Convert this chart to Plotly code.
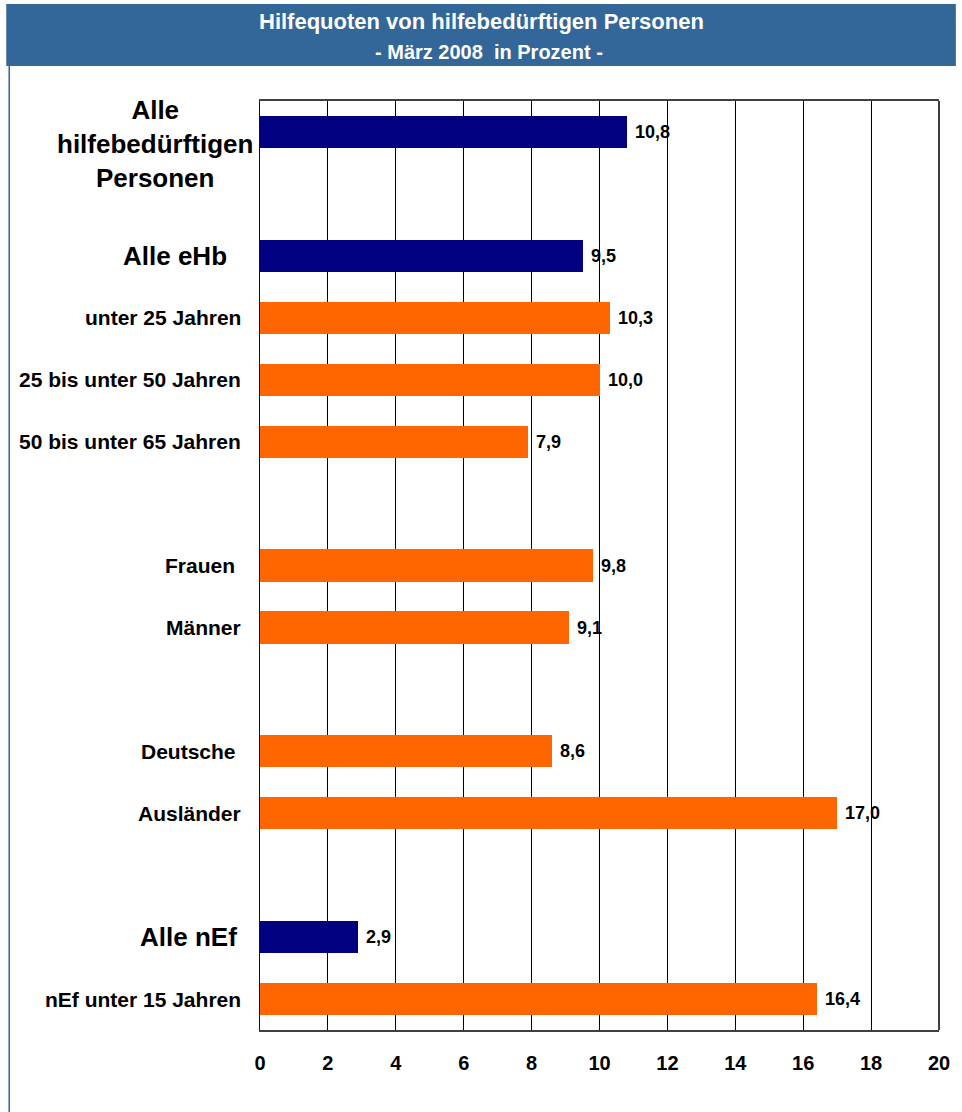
import plotly.graph_objects as go

# rows from top to bottom, blank strings are empty spacer rows
rows = ["Alle hilfebedürftigen Personen", " ", "Alle eHb", "unter 25 Jahren",
        "25 bis unter 50 Jahren", "50 bis unter 65 Jahren", "  ", "Frauen ", "Männer",
        "   ", "Deutsche ", "Ausländer", "    ", "Alle nEf", "nEf unter 15 Jahren"]
values = [10.8, None, 9.5, 10.3, 10.0, 7.9, None, 9.8, 9.1, None, 8.6, 17.0, None, 2.9, 16.4]
totals = ["Alle hilfebedürftigen Personen", "Alle eHb", "Alle nEf"]

title = "Hilfequoten von hilfebedürftigen Personen"
subtitle = "- März 2008  in Prozent -"
x_ticks = [0, 2, 4, 6, 8, 10, 12, 14, 16, 18, 20]

NAVY = "#000080"
ORANGE = "#FF6600"
BLUE = "#336699"
FONT = "Liberation Sans"

W, H = 962, 1112
L, R, T, B = 260, 945, 101, 1030


def px(x):
    return (x - L) / (R - L)


def py(y):
    return (B - y) / (B - T)


colors = [NAVY if r in totals else ORANGE for r in rows]

fig = go.Figure()
fig.add_trace(go.Bar(
    x=values, y=rows, orientation="h", width=0.52,
    marker=dict(color=colors, line=dict(width=0)),
    texttemplate="\u00a0%{x:.1f}", textposition="outside", cliponaxis=False,
    textfont=dict(family=FONT, size=18, color="black", weight="bold"),
    showlegend=False, hoverinfo="skip",
))

# category labels on the left
for r in rows:
    if not r.strip():
        continue
    label = r.replace(" ", "\u00a0") if r.endswith(" ") else r
    if r == "Alle hilfebedürftigen Personen":
        fig.add_annotation(x=0, xref="paper", y=r, yref="y", text=r.replace(" ", "<br>"),
                           xanchor="center", xshift=-105, yshift=-12, align="center", showarrow=False,
                           font=dict(family=FONT, size=26, color="black", weight="bold"))
    elif r in totals:
        shift = -31 if r == "Alle eHb" else -21
        fig.add_annotation(x=0, xref="paper", y=r, yref="y", text=label, xanchor="right",
                           xshift=shift, showarrow=False,
                           font=dict(family=FONT, size=26, color="black", weight="bold"))
    else:
        fig.add_annotation(x=0, xref="paper", y=r, yref="y", text=label, xanchor="right",
                           xshift=-17, showarrow=False,
                           font=dict(family=FONT, size=21, color="black", weight="bold"))

# header band and frame
fig.add_shape(type="rect", xref="paper", yref="paper", x0=px(4), x1=px(962), y0=py(66), y1=py(4),
              fillcolor=BLUE, line=dict(width=0), layer="below")
fig.add_shape(type="line", xref="paper", yref="paper", x0=px(7), x1=px(7), y0=py(66), y1=py(1112),
              line=dict(color=BLUE, width=1.5))
fig.add_shape(type="line", xref="paper", yref="paper", x0=1, x1=1, y0=0, y1=1,
              line=dict(color="#404040", width=2))
fig.add_annotation(x=px(483), xref="paper", y=py(22), yref="paper", text=title, showarrow=False,
                   xanchor="center", yanchor="middle",
                   font=dict(family=FONT, size=22, color="white", weight="bold"))
fig.add_annotation(x=px(491), xref="paper", y=py(52), yref="paper", text=subtitle, showarrow=False,
                   xanchor="center", yanchor="middle",
                   font=dict(family=FONT, size=20, color="white", weight="bold"))

fig.update_layout(
    width=W, height=H,
    margin=dict(l=L, r=W - R, t=T, b=H - B, pad=0),
    paper_bgcolor="white", plot_bgcolor="white",
    separators=",.",
    bargap=0,
    xaxis=dict(range=[0, 20], tickvals=x_ticks, showgrid=True, gridcolor="black", gridwidth=1,
               zeroline=False, showline=True, linecolor="#404040", linewidth=2, mirror=True,
               ticks="outside", ticklen=14, tickcolor="rgba(0,0,0,0)",
               tickfont=dict(family=FONT, size=20, color="black", weight="bold")),
    yaxis=dict(categoryorder="array", categoryarray=rows, range=[len(rows) - 0.5, -0.5],
               showgrid=False, showticklabels=False, zeroline=False,
               showline=True, linecolor=NAVY, linewidth=1),
)

fig.write_html("out.html", config={"displayModeBar": False},
               post_script="document.body.style.margin='0';")
